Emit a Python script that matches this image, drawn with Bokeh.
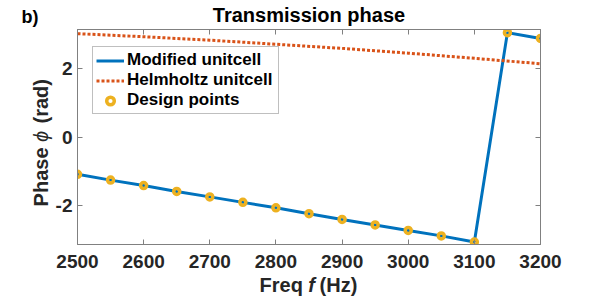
import math
from bokeh.plotting import figure
from bokeh.models import Range1d, FixedTicker, LinearAxis, Label, Legend, LegendItem
from bokeh.embed import file_html
from bokeh.resources import INLINE

# ---- data ----
freq_design = [2500, 2550, 2600, 2650, 2700, 2750, 2800, 2850, 2900, 2950, 3000, 3050, 3100, 3150, 3200]
phase_modified = [-1.09, -1.26, -1.42, -1.59, -1.75, -1.91, -2.07, -2.24, -2.41, -2.57, -2.73, -2.89, -3.07, 3.05, 2.88]
freq_helm = [2500, 2600, 2700, 2800, 2900, 3000, 3100, 3200]
phase_helm = [3.02, 2.93, 2.83, 2.71, 2.59, 2.45, 2.30, 2.14]
xticks = [2500, 2600, 2700, 2800, 2900, 3000, 3100, 3200]
yticks = [-2, 0, 2]
ytick_labels = ["-2", "0", "2"]

FONT = "Liberation Sans"
AX = "#808080"
TXT = "#262626"
BLUE = "#0072BD"
ORANGE = "#D95319"
YELLOW = "#EDB120"

XMIN, XMAX = 2500, 3200
YMIN, YMAX = -math.pi, math.pi
W, H = 598, 298
ML, MR, MT, MB = 77, 58, 29, 54
FW, FH = W - ML - MR, H - MT - MB
PX_X = FW / (XMAX - XMIN)      # pixels per Hz
PX_Y = FH / (YMAX - YMIN)      # pixels per rad

def dx(px):   # offset from frame left in pixels -> data x
    return XMIN + px / PX_X

def dy(px):   # offset from frame bottom in pixels (up positive) -> data y
    return YMIN + px / PX_Y

p = figure(width=W, height=H, output_backend="svg", toolbar_location=None,
           x_range=Range1d(XMIN, XMAX), y_range=Range1d(YMIN, YMAX),
           min_border_left=ML, min_border_right=MR, min_border_top=MT, min_border_bottom=MB)
p.grid.visible = False
p.outline_line_color = AX
p.outline_line_width = 1
p.background_fill_color = "white"
p.border_fill_color = "white"

def style_axis(ax, ticks, show_labels=True, overrides=None):
    ax.ticker = FixedTicker(ticks=ticks)
    ax.axis_line_color = AX
    ax.major_tick_line_color = AX
    ax.major_tick_in = 5
    ax.major_tick_out = 0
    ax.minor_tick_line_color = None
    if show_labels:
        ax.major_label_text_font = FONT
        ax.major_label_text_font_style = "bold"
        ax.major_label_text_font_size = "19px"
        ax.major_label_text_color = TXT
        if overrides:
            ax.major_label_overrides = overrides
    else:
        ax.major_label_overrides = {t: "" for t in ticks}
        ax.major_label_text_font_size = "1px"
        ax.major_label_standoff = 0

style_axis(p.xaxis[0], xticks)
p.xaxis[0].major_label_standoff = 10
style_axis(p.yaxis[0], yticks, overrides={t: s for t, s in zip(yticks, ytick_labels)})
p.yaxis[0].major_label_standoff = 5

top_ax = LinearAxis()
style_axis(top_ax, xticks, show_labels=False)
p.add_layout(top_ax, "above")
right_ax = LinearAxis()
style_axis(right_ax, yticks, show_labels=False)
p.add_layout(right_ax, "right")

r_mod = p.line(freq_design, phase_modified, line_color=BLUE, line_width=3)
r_helm = p.line(freq_helm, phase_helm, line_color=ORANGE, line_width=3, line_dash="3 2")
r_pts = p.scatter(freq_design, phase_modified, marker="circle", size=6,
                  fill_color=None, line_color=YELLOW, line_width=3.5)

legend = Legend(items=[LegendItem(label="Modified unitcell", renderers=[r_mod]),
                       LegendItem(label="Helmholtz unitcell", renderers=[r_helm]),
                       LegendItem(label="Design points", renderers=[r_pts])],
                location=(15, FH - 22 - 63), orientation="vertical",
                label_text_font=FONT, label_text_font_style="bold", label_text_font_size="17px",
                label_text_color="black", glyph_width=28, glyph_height=19, label_height=19,
                label_width=148, label_standoff=3, spacing=0, padding=3, margin=0,
                border_line_color=AX, border_line_width=1, background_fill_alpha=1)
p.add_layout(legend, "center")

# texts outside the frame; they are placed in side panels (not clipped) by data position
def lab(side, text, x, y, size="20px", style="bold", align="left", angle=0.0, color=TXT):
    p.add_layout(Label(x=x, y=y, text=text, text_font=FONT, text_font_style=style,
                       text_font_size=size, text_align=align, text_baseline="middle",
                       angle=angle, text_color=color), side)

NB = "\u00a0"
lab("above", "Transmission phase", dx(FW / 2), dy(FH + 15), align="center", color="black")
lab("below", "Freq" + NB * 3 + "(Hz)", dx(231), dy(-40), align="center")
lab("right", "f", dx(234), dy(-40), style="bold italic", align="center")
lab("left", "Phase", dx(-37), dy(97), align="right", angle=math.pi / 2)
lab("left", "(rad)", dx(-37), dy(121), align="left", angle=math.pi / 2)
lab("right", "\u03d5", dx(-37), dy(108), style="italic", align="center", angle=math.pi / 2)
lab("right", "b)", dx(-56), dy(FH + 13), size="18px", color="black")

open("out.html", "w").write(file_html(p, INLINE))
